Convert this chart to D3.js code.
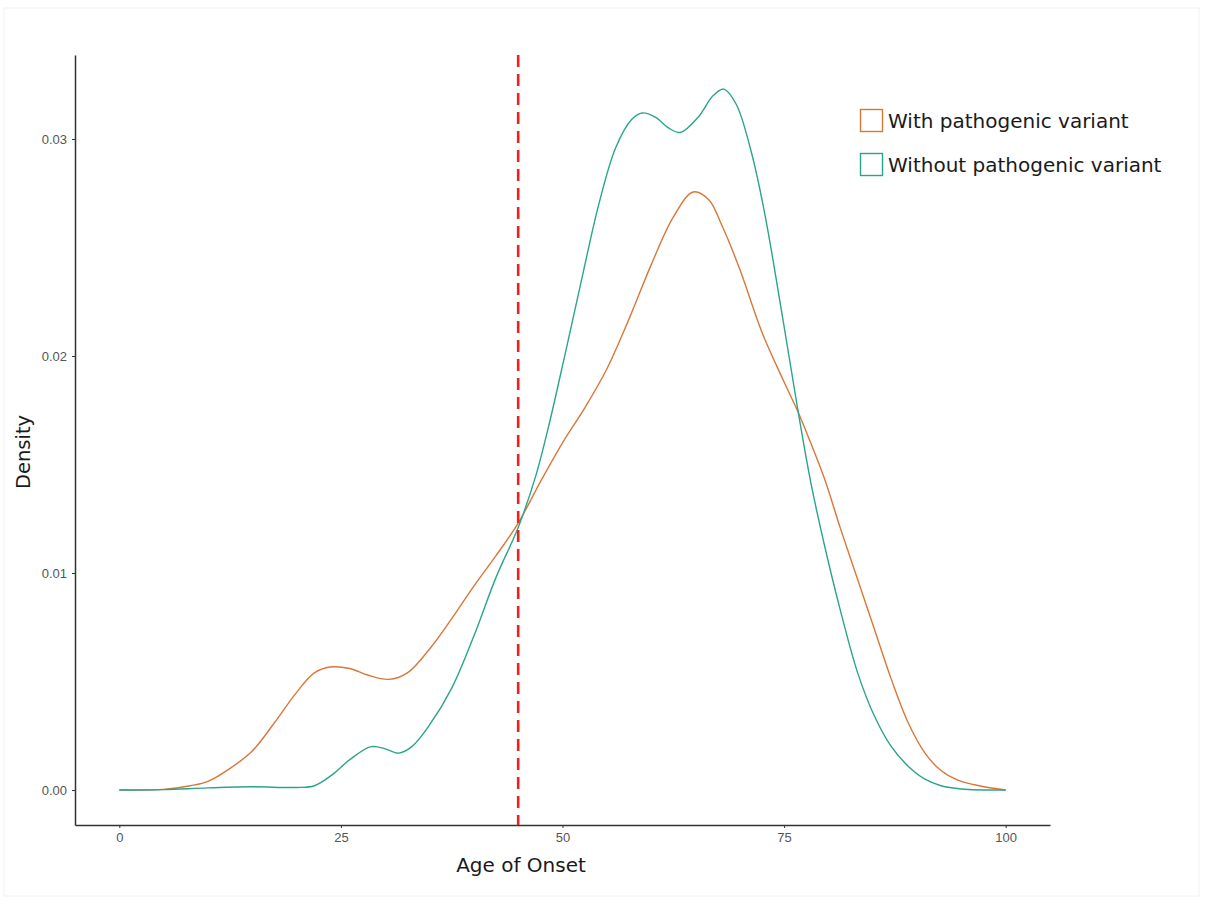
<!DOCTYPE html>
<html>
<head>
<meta charset="utf-8">
<script src="https://cdn.jsdelivr.net/npm/d3@7"></script>
<style>
  body { margin: 0; background: #fff; }
  .tick text { font-family: "Liberation Sans Narrow", "Liberation Sans", Arial, sans-serif; font-size: 13px; fill: #555; }
</style>
</head>
<body>
<svg id="chart" width="1206" height="901"></svg>
<script>
// density curves (age, density)
var withAge = [0, 5, 8, 10, 12.5, 15, 17.5, 20, 22, 23.8, 26, 28, 30.4, 32.5, 35, 37.5, 40, 42.5, 45, 47.5, 50, 52.5, 55, 57.5, 60, 62.5, 64.75, 66.5, 68, 70, 72.5, 75, 76.6, 78, 79.6, 81.4, 83.3, 85.2, 87.1, 89, 90.9, 92.7, 94.6, 97, 100];
var withDensity = [0, 0.00003, 0.0002, 0.0004, 0.0010, 0.0018, 0.0031, 0.0045, 0.0054, 0.00567, 0.0056, 0.0053, 0.0051, 0.0054, 0.0065, 0.0079, 0.0094, 0.0108, 0.0123, 0.0142, 0.0160, 0.0176, 0.0194, 0.0217, 0.0242, 0.0264, 0.02756, 0.0272, 0.0260, 0.0240, 0.0211, 0.0188, 0.0174, 0.0160, 0.0143, 0.0120, 0.0097, 0.0074, 0.0051, 0.0031, 0.0017, 0.0009, 0.00046, 0.0002, 0];

var withoutAge = [0, 5, 10, 15, 20, 22, 24, 26, 28.4, 30, 31.5, 33, 35, 37.5, 40, 42.5, 45, 47, 48.4, 50.3, 52.2, 54.1, 56, 57.8, 59, 60.5, 62, 63.3, 65.3, 67, 68.2, 69.6, 71.3, 72.8, 74.7, 76.6, 78, 79.6, 81.4, 83.3, 85.2, 87.1, 89, 90.9, 92.7, 95, 100];
var withoutDensity = [0, 0.00002, 0.0001, 0.00015, 0.00012, 0.0002, 0.0007, 0.0014, 0.0020, 0.0019, 0.0017, 0.0020, 0.0030, 0.0047, 0.0071, 0.0098, 0.0121, 0.0145, 0.0167, 0.0201, 0.0236, 0.0270, 0.0296, 0.0309, 0.0312, 0.0310, 0.0305, 0.0303, 0.0310, 0.0320, 0.0323, 0.0316, 0.0294, 0.0266, 0.0221, 0.0174, 0.0142, 0.0112, 0.0082, 0.0054, 0.0034, 0.0020, 0.0011, 0.0005, 0.0002, 0.00005, 0];

var seriesNames = ['With pathogenic variant', 'Without pathogenic variant'];
var seriesColors = ['#d9773a', '#2aa58c'];
var xTicks = [0, 25, 50, 75, 100];
var yTicks = [0, 0.01, 0.02, 0.03];
var cutoffAge = 45;

var svg = d3.select('#chart');

// faint outer frame of the figure
svg.append('rect')
  .attr('x', 4).attr('y', 8)
  .attr('width', 1195).attr('height', 888)
  .attr('fill', 'none')
  .attr('stroke', '#f2f2f2');

var margin = { top: 55, right: 156, bottom: 76, left: 75 },
  width = 1206 - margin.left - margin.right,
  height = 901 - margin.top - margin.bottom;

var g = svg.append('g')
  .attr('transform', 'translate(' + margin.left + ',' + margin.top + ')');

var x = d3.scaleLinear().domain([-5, 105]).range([0, width]);
var y = d3.scaleLinear().domain([-0.00161, 0.03387]).range([height, 0]);

var xAxis = d3.axisBottom(x).tickValues(xTicks).tickSizeInner(3).tickSizeOuter(0).tickPadding(5).tickFormat(d3.format('d'));
var yAxis = d3.axisLeft(y).tickValues(yTicks).tickSizeInner(3).tickSizeOuter(0).tickPadding(5).tickFormat(d3.format('.2f'));

var axX = g.append('g').attr('transform', 'translate(0,' + height + ')').call(xAxis);
var axY = g.append('g').call(yAxis);
[axX, axY].forEach(function (a) {
  a.select('.domain').attr('stroke', '#333').attr('stroke-width', 1.5);
  a.selectAll('.tick line').attr('stroke', '#333');
});

// density lines
var line = d3.line()
  .curve(d3.curveCatmullRom.alpha(0.5))
  .x(function (d) { return x(d[0]); })
  .y(function (d) { return y(d[1]); });

var series = [
  d3.zip(withAge, withDensity),
  d3.zip(withoutAge, withoutDensity)
];
series.forEach(function (s, i) {
  g.append('path')
    .datum(s)
    .attr('fill', 'none')
    .attr('stroke', seriesColors[i])
    .attr('stroke-width', 1.4)
    .attr('d', line);
});

// cutoff line
g.append('line')
  .attr('x1', x(cutoffAge)).attr('x2', x(cutoffAge))
  .attr('y1', 0).attr('y2', height)
  .attr('stroke', '#f0201e')
  .attr('stroke-width', 2.6)
  .attr('stroke-dasharray', '12,7');

// axis titles
svg.append('text')
  .attr('x', 521).attr('y', 872)
  .attr('text-anchor', 'middle')
  .style('font-family', '"DejaVu Sans", sans-serif')
  .style('font-size', '20px')
  .attr('fill', '#1a1a1a')
  .text('Age of Onset');

svg.append('text')
  .attr('transform', 'translate(30,452) rotate(-90)')
  .attr('text-anchor', 'middle')
  .style('font-family', '"DejaVu Sans", sans-serif')
  .style('font-size', '19.5px')
  .attr('fill', '#1a1a1a')
  .text('Density');

// legend
var legend = svg.append('g').attr('transform', 'translate(860,109)');
seriesNames.forEach(function (name, i) {
  var row = legend.append('g').attr('transform', 'translate(0,' + (i * 44) + ')');
  row.append('rect')
    .attr('x', 0.5).attr('y', 0.5)
    .attr('width', 22).attr('height', 22)
    .attr('fill', '#fff')
    .attr('stroke', seriesColors[i])
    .attr('stroke-width', 1.4);
  row.append('text')
    .attr('x', 28).attr('y', 19)
    .style('font-family', '"DejaVu Sans", sans-serif')
    .style('font-size', '20px')
    .attr('fill', '#1a1a1a')
    .text(name);
});
</script>
</body>
</html>
